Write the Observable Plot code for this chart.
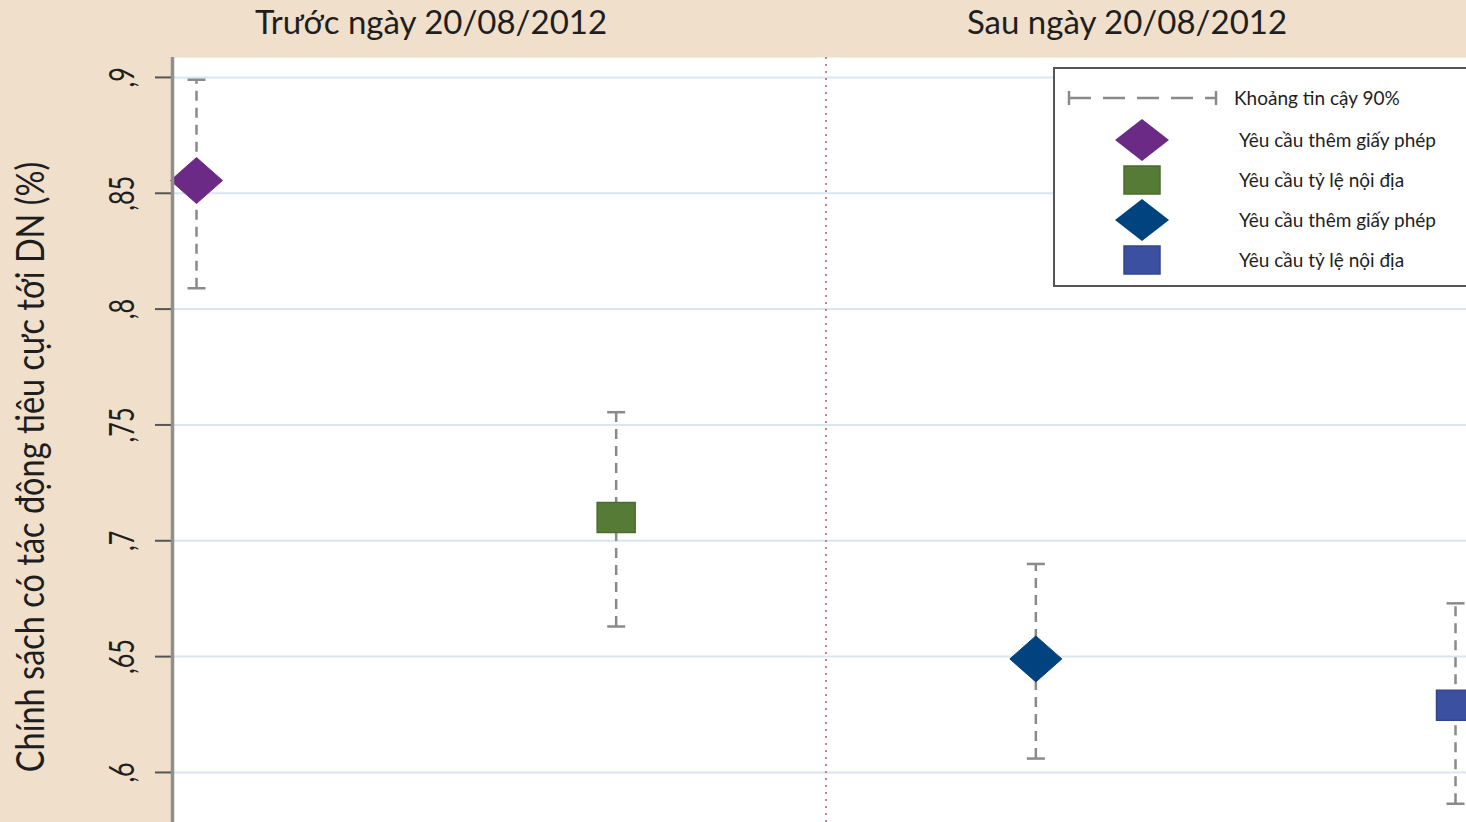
<!DOCTYPE html>
<html><head><meta charset="utf-8">
<script src="https://cdn.jsdelivr.net/npm/d3@7"></script>
<script src="https://cdn.jsdelivr.net/npm/@observablehq/plot@0.6"></script>
<style>
html,body{margin:0;padding:0;background:#efdfcb;overflow:hidden}
#wrap{position:relative;width:1466px;height:822px;font-family:Lato,"Open Sans",sans-serif;color:#1e1e1e}
.ptitle{position:absolute;top:5px;font-size:33px;line-height:1;white-space:nowrap;transform:translateX(-50%)}
#ytitle{position:absolute;left:30px;top:467px;font-size:32.5px;line-height:1;white-space:nowrap;transform:translate(-50%,-50%) rotate(-90deg) scaleY(1.2)}
#legend{position:absolute;left:1053px;top:67px;width:420px;height:220px;border:2px solid #555;background:#fff;box-sizing:border-box}
#legend svg{position:absolute;left:-2px;top:-2px;overflow:visible}
</style></head>
<body><div id="wrap"></div>
<script>
// ---- data ----
const panelTitles = ["Trước ngày 20/08/2012", "Sau ngày 20/08/2012"];
const yTitle = "Chính sách có tác động tiêu cực tới DN (%)";
const categories = ["Yêu cầu thêm giấy phép", "Yêu cầu tỷ lệ nội địa", "Yêu cầu thêm giấy phép", "Yêu cầu tỷ lệ nội địa"];
const positions = [1, 2, 3, 4];
const estimates = [0.8555, 0.710, 0.649, 0.629];
const ciLow = [0.809, 0.663, 0.606, 0.5865];
const ciHigh = [0.899, 0.7555, 0.690, 0.673];
const shapes = ["diamond", "square", "diamond", "square"];
const colors = ["#6a2a85", "#567b36", "#00437f", "#3b50a0"];
const yTicks = [0.6, 0.65, 0.7, 0.75, 0.8, 0.85, 0.9];
const yTickLabels = [",6", ",65", ",7", ",75", ",8", ",85", ",9"];
const ciLabel = "Khoảng tin cậy 90%";
const dividerAt = [2.5];

const data = positions.map((p, i) => ({pos: p, est: estimates[i], lo: ciLow[i], hi: ciHigh[i], shape: shapes[i], color: colors[i], label: categories[i]}));

// ---- symbols ----
const diamondSym = {draw(ctx) { ctx.moveTo(0, -23); ctx.lineTo(26, 0); ctx.lineTo(0, 23); ctx.lineTo(-26, 0); ctx.closePath(); }};
const squareSym = {draw(ctx) { ctx.rect(-19, -15, 38, 30); }};
const capSym = {draw(ctx) { ctx.moveTo(-9, 0); ctx.lineTo(9, 0); }};

const xDomain = [0.9428, 4.0262];
const errColor = "#8a8a8a";

const chart = Plot.plot({
  width: 1466, height: 822,
  marginLeft: 172, marginTop: 57, marginRight: 0, marginBottom: 0,
  style: {background: "#efdfcb", fontFamily: "Lato, sans-serif", color: "#1e1e1e"},
  x: {domain: xDomain, axis: null},
  y: {domain: [0.5784, 0.9086], axis: null},
  color: {type: "identity"},
  marks: [
    Plot.frame({fill: "white", stroke: "none"}),
    Plot.gridY(yTicks, {stroke: "#d9e6f1", strokeOpacity: 1, strokeWidth: 2}),
    Plot.ruleX(dividerAt, {stroke: "#b85a68", strokeOpacity: 0.75, strokeWidth: 2, strokeDasharray: "2,5"}),
    Plot.ruleX(data, {x: "pos", y1: "lo", y2: "hi", stroke: errColor, strokeWidth: 2.5, strokeDasharray: "10,7"}),
    Plot.dot(data, {x: "pos", y: "lo", symbol: capSym, stroke: errColor, strokeWidth: 2.5, fill: "none"}),
    Plot.dot(data, {x: "pos", y: "hi", symbol: capSym, stroke: errColor, strokeWidth: 2.5, fill: "none"}),
    Plot.dot(data.filter(d => d.shape === "diamond"), {x: "pos", y: "est", symbol: diamondSym, fill: "color", stroke: "color", strokeWidth: 1}),
    Plot.dot(data.filter(d => d.shape === "square"), {x: "pos", y: "est", symbol: squareSym, fill: "color", stroke: d => d3.color(d.color).darker(0.4).formatHex(), strokeWidth: 1.5}),
    Plot.axisY(yTicks, {tickSize: 17, stroke: "#555", strokeWidth: 2, tickFormat: () => "", label: null}),
    Plot.ruleX([xDomain[0]], {stroke: "#8f8f8f", strokeWidth: 3.5}),
    Plot.text(yTicks, {y: d => d, text: (d, i) => yTickLabels[i], frameAnchor: "left", textAnchor: "middle", dx: -50, rotate: -90, fontSize: 28, fill: "#1e1e1e"})
  ]
});

// stretch rotated tick labels like the original (glyph height widened)
d3.select(chart).selectAll("text").filter(function() { return yTickLabels.includes(this.textContent); })
  .attr("transform", function() { const t = this.getAttribute("transform"); return t ? t + " scale(0.9,1.25)" : null; });

const wrap = document.getElementById("wrap");
wrap.appendChild(chart);

// titles
const titleCenters = [431, 1127];
panelTitles.forEach((t, i) => {
  const d = document.createElement("div");
  d.className = "ptitle"; d.textContent = t; d.style.left = titleCenters[i] + "px";
  wrap.appendChild(d);
});
const yt = document.createElement("div");
yt.id = "ytitle"; yt.textContent = yTitle; wrap.appendChild(yt);

// legend
const leg = document.createElement("div");
leg.id = "legend"; wrap.appendChild(leg);
const lsvg = d3.select(leg).append("svg").attr("width", 420).attr("height", 220);
const fy = 31;
const g0 = lsvg.append("g").attr("stroke", errColor).attr("stroke-width", 2.5);
g0.append("line").attr("x1", 16).attr("x2", 163).attr("y1", fy).attr("y2", fy).attr("stroke-dasharray", "22,12");
g0.append("line").attr("x1", 16).attr("x2", 16).attr("y1", fy - 7).attr("y2", fy + 7);
g0.append("line").attr("x1", 163).attr("x2", 163).attr("y1", fy - 7).attr("y2", fy + 7);
lsvg.append("text").attr("x", 181).attr("y", fy).attr("dy", "0.35em").attr("font-size", 19).attr("fill", "#1e1e1e").text(ciLabel);
data.forEach((d, i) => {
  const cy = 73 + i * 40;
  const g = lsvg.append("g").attr("transform", `translate(89,${cy})`);
  if (d.shape === "diamond") g.append("path").attr("d", "M0,-21L27,0L0,21L-27,0Z").attr("fill", d.color);
  else g.append("rect").attr("x", -18).attr("y", -14).attr("width", 36).attr("height", 28).attr("fill", d.color).attr("stroke", d3.color(d.color).darker(0.4).formatHex()).attr("stroke-width", 1.5);
  lsvg.append("text").attr("x", 186).attr("y", cy).attr("dy", "0.35em").attr("font-size", 19).attr("fill", "#1e1e1e").text(d.label);
});
</script></body></html>
